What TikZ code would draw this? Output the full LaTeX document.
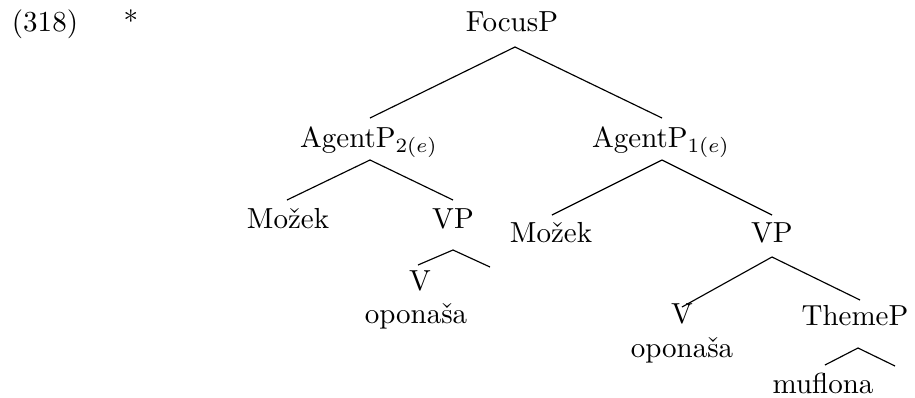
\documentclass[tikz,border=0pt]{standalone}
\usepackage{amsmath,amssymb}
\usepackage{tikz}

\tikzset{
    lab/.style={anchor=base, inner sep=0pt},
    branch/.style={line width=0.4pt}
}

\begin{document}
\begin{tikzpicture}[x=0.3448pt, y=-0.3448pt]
\useasboundingbox (0,0) rectangle (915,398);

% Example number and star
\node[lab] (ex) at (45,31) {(318)};
\node[lab] (star) at (131,31) {*};

% Labels of the tree
\node[lab] (focus) at (512,31) {FocusP};
\node[lab] (agent2) at (369,147) {AgentP$_{2(e)}$};
\node[lab] (agent1) at (661,147) {AgentP$_{1(e)}$};
\node[lab] (mozek2) at (288,228) {Možek};
\node[lab] (vp2) at (453,228) {VP};
\node[lab] (v2) at (420,290) {V};
\node[lab] (verb2) at (416,323) {oponaša};
\node[lab] (mozek1) at (551,242) {Možek};
\node[lab] (vp1) at (772,242) {VP};
\node[lab] (v1) at (682,323) {V};
\node[lab] (theme) at (855,325) {ThemeP};
\node[lab] (verb1) at (682,357) {oponaša};
\node[lab] (obj) at (823,393) {muflona};

% Branch points under each mother node
\coordinate (focus-b) at (515,47);
\coordinate (agent2-b) at (370,160);
\coordinate (agent1-b) at (662,160);
\coordinate (vp2-b) at (453,250);
\coordinate (vp1-b) at (772,257);
\coordinate (theme-b) at (858,348);

% Ends of the branches above each daughter
\coordinate (agent2-t) at (370,118);
\coordinate (agent1-t) at (662,118);
\coordinate (mozek2-t) at (287,200);
\coordinate (vp2-t) at (453,200);
\coordinate (v2-t) at (418,265);
\coordinate (nil2-t) at (490,267);
\coordinate (mozek1-t) at (552,215);
\coordinate (vp1-t) at (772,215);
\coordinate (v1-t) at (682,307);
\coordinate (theme-t) at (860,300);
\coordinate (obj-t) at (825,365);
\coordinate (nil1-t) at (895,366);

% Draw branches
\foreach \m/\d in {focus-b/agent2-t, focus-b/agent1-t,
    agent2-b/mozek2-t, agent2-b/vp2-t, vp2-b/v2-t, vp2-b/nil2-t,
    agent1-b/mozek1-t, agent1-b/vp1-t, vp1-b/v1-t, vp1-b/theme-t,
    theme-b/obj-t, theme-b/nil1-t} {
    \draw[branch] (\m) -- (\d);
}
\end{tikzpicture}
\end{document}
